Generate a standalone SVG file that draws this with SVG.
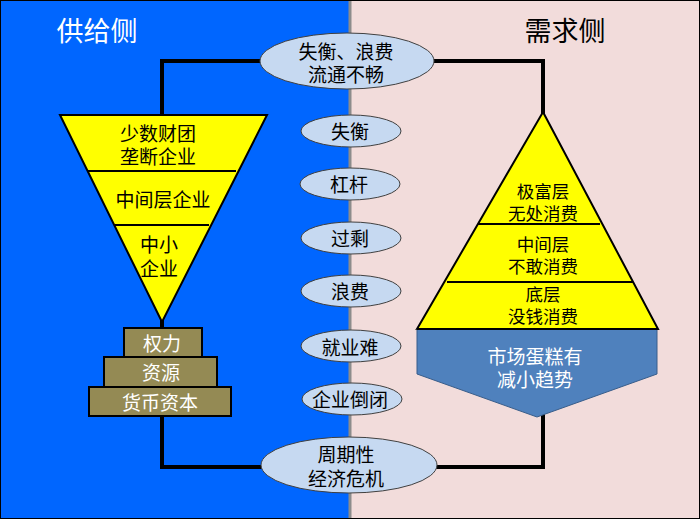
<svg xmlns="http://www.w3.org/2000/svg" width="700" height="519" viewBox="0 0 700 519">
<style>
text{font-family:"Noto Sans CJK SC","Noto Sans",sans-serif;font-size:19px;text-anchor:middle;dominant-baseline:central}
.dk{fill:#000}
.wt{fill:#fff}
.sm{font-size:17.5px}
.ell{fill:#c6d9f1;stroke:#404040;stroke-width:1}
.yel{fill:#ffff00;stroke:#000;stroke-width:2;stroke-linejoin:miter}
.ol{fill:#948a54;stroke:#000;stroke-width:2}
.conn{fill:none;stroke:#000;stroke-width:4}
.title{font-size:27px}
</style>
<g id="background">
<rect x="0" y="0" width="350" height="519" fill="#0066ff"/>
<rect x="350" y="0" width="350" height="519" fill="#f2dcdb"/>
<rect x="348.5" y="0" width="3" height="519" fill="#8c8c8c"/>
<rect x="0.5" y="0.5" width="699" height="518" fill="none" stroke="#000" stroke-width="1"/>
</g>
<g id="connectors">
<path class="conn" d="M260,61 H162 V117"/>
<path class="conn" d="M434,61 H543 V114"/>
<path class="conn" d="M162,316 V329"/>
<path class="conn" d="M162,415 V467 H262"/>
<path class="conn" d="M543,414 V467 H436"/>
</g>
<g id="title-supply"><text class="wt title" x="97" y="29">供给侧</text></g>
<g id="title-demand"><text class="dk title" x="565" y="29">需求侧</text></g>
<g id="supply-funnel">
<polygon class="yel" points="60,115 267,115 162,322"/>
<line x1="88" y1="171" x2="236" y2="171" stroke="#000" stroke-width="2"/>
<line x1="115" y1="225" x2="209" y2="225" stroke="#000" stroke-width="2"/>
<text class="dk"><tspan x="158" y="132">少数财团</tspan><tspan x="158" y="155">垄断企业</tspan></text>
<text class="dk" x="163" y="198">中间层企业</text>
<text class="dk"><tspan x="159" y="243">中小</tspan><tspan x="159" y="267">企业</tspan></text>
</g>
<g id="power"><rect class="ol" x="124" y="328" width="78" height="29"/><text class="wt" x="162" y="342">权力</text></g>
<g id="resources"><rect class="ol" x="104" y="357" width="113" height="30"/><text class="wt" x="161" y="371">资源</text></g>
<g id="capital"><rect class="ol" x="89" y="387" width="142" height="29"/><text class="wt" x="160" y="401">货币资本</text></g>
<g id="e-top"><ellipse class="ell" cx="347" cy="61" rx="87" ry="28"/><text class="dk"><tspan x="346" y="50">失衡、浪费</tspan><tspan x="346" y="73">流通不畅</tspan></text></g>
<g id="e1"><ellipse class="ell" cx="351" cy="131" rx="50" ry="16"/><text class="dk" x="350" y="130">失衡</text></g>
<g id="e2"><ellipse class="ell" cx="350" cy="184" rx="50" ry="16"/><text class="dk" x="349" y="183">杠杆</text></g>
<g id="e3"><ellipse class="ell" cx="351" cy="238" rx="50" ry="16"/><text class="dk" x="350" y="237">过剩</text></g>
<g id="e4"><ellipse class="ell" cx="351" cy="291" rx="50" ry="16"/><text class="dk" x="350" y="290">浪费</text></g>
<g id="e5"><ellipse class="ell" cx="351" cy="346" rx="50" ry="16"/><text class="dk" x="350" y="346">就业难</text></g>
<g id="e6"><ellipse class="ell" cx="352" cy="399" rx="50" ry="16"/><text class="dk" x="350" y="398">企业倒闭</text></g>
<g id="e-bottom"><ellipse class="ell" cx="349" cy="465" rx="88" ry="28"/><text class="dk"><tspan x="346" y="453">周期性</tspan><tspan x="346" y="477">经济危机</tspan></text></g>
<g id="demand-pyramid">
<polygon class="yel" points="543,112 658,329 417,329"/>
<line x1="478" y1="224" x2="600" y2="224" stroke="#000" stroke-width="2"/>
<line x1="447" y1="282" x2="633" y2="282" stroke="#000" stroke-width="2"/>
<text class="dk sm"><tspan x="543" y="190">极富层</tspan><tspan x="543" y="212">无处消费</tspan></text>
<text class="dk sm"><tspan x="543" y="243">中间层</tspan><tspan x="543" y="265">不敢消费</tspan></text>
<text class="dk sm"><tspan x="543" y="293">底层</tspan><tspan x="543" y="315">没钱消费</tspan></text>
</g>
<g id="market">
<polygon points="417,329 657,329 657,374 537,417 417,374" fill="#4f81bd" stroke="#385d8a" stroke-width="1"/>
<path d="M417,329 H658" stroke="#000" stroke-width="2"/>
<text class="wt"><tspan x="535" y="355">市场蛋糕有</tspan><tspan x="535" y="378">减小趋势</tspan></text>
</g>
</svg>
